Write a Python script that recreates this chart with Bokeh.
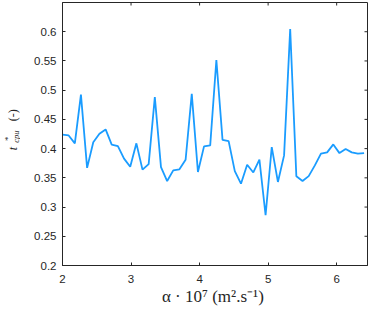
import math
from bokeh.plotting import figure
from bokeh.layouts import row
from bokeh.models import FixedTicker, Range1d
from bokeh.core.properties import value
from bokeh.embed import file_html
from bokeh.resources import INLINE

# thermal diffusivity alpha * 1e7 (m2/s)
alpha = [2.000, 2.090, 2.180, 2.269, 2.359, 2.449, 2.539, 2.629, 2.718, 2.808,
         2.898, 2.988, 3.078, 3.167, 3.257, 3.347, 3.437, 3.527, 3.616, 3.706,
         3.796, 3.886, 3.976, 4.065, 4.155, 4.245, 4.335, 4.424, 4.514, 4.604,
         4.694, 4.784, 4.873, 4.963, 5.053, 5.143, 5.233, 5.322, 5.412, 5.502,
         5.592, 5.682, 5.771, 5.861, 5.951, 6.041, 6.131, 6.220, 6.310, 6.400]

# normalised cpu time
t_cpu = [0.424, 0.4225, 0.409, 0.4925, 0.367, 0.411, 0.4254, 0.4328, 0.4067, 0.4043,
         0.3828, 0.369, 0.409, 0.364, 0.3735, 0.488, 0.3684, 0.3445, 0.3628, 0.3645,
         0.381, 0.4937, 0.360, 0.4038, 0.4055, 0.5517, 0.415, 0.4128, 0.3614, 0.340,
         0.3724, 0.3592, 0.381, 0.286, 0.4027, 0.343, 0.3884, 0.6046, 0.3526, 0.3445,
         0.353, 0.3713, 0.3913, 0.3935, 0.4072, 0.3923, 0.3992, 0.3935, 0.3913, 0.3923]

x_min, x_max = 2, 6.45
y_min, y_max = 0.2, 0.65
x_ticks = [2, 3, 4, 5, 6]
y_ticks = [0.2, 0.25, 0.3, 0.35, 0.4, 0.45, 0.5, 0.55, 0.6]
y_tick_labels = ["0.2", "0.25", "0.3", "0.35", "0.4", "0.45", "0.5", "0.55", "0.6"]

AX = "#262626"
LINE = "#1a9cff"
TOP, BOTTOM = 2, 44
LAB_W = 20

p = figure(width=372 - LAB_W, height=309, x_range=Range1d(x_min, x_max),
           y_range=Range1d(y_min, y_max), output_backend="svg", toolbar_location=None,
           min_border_left=62 - LAB_W, min_border_right=5, min_border_top=TOP,
           min_border_bottom=BOTTOM)
p.xgrid.visible = False
p.ygrid.visible = False
p.outline_line_color = AX
p.outline_line_width = 1
p.background_fill_color = "white"
p.border_fill_color = "white"


def style_axis(ax, ticks):
    ax.ticker = FixedTicker(ticks=ticks)
    ax.axis_line_color = AX
    ax.axis_line_width = 1
    ax.major_tick_line_color = AX
    ax.major_tick_in = 3
    ax.major_tick_out = 0
    ax.minor_tick_line_color = None
    ax.major_label_text_color = AX
    ax.major_label_text_font = "Liberation Sans"
    ax.major_label_text_font_size = "11.5px"


xa = p.xaxis[0]
style_axis(xa, x_ticks)
xa.major_label_standoff = 9
xa.axis_label = "α · 10⁷  (m².s⁻¹)"
xa.axis_label_text_font = "Liberation Serif"
xa.axis_label_text_font_style = "normal"
xa.axis_label_text_font_size = "17px"
xa.axis_label_text_color = AX
xa.axis_label_standoff = 1

ya = p.yaxis[0]
style_axis(ya, y_ticks)
ya.major_label_standoff = 6
ya.major_label_overrides = {t: s for t, s in zip(y_ticks, y_tick_labels)}

# mirrored inward ticks on the top and right edges (clipped to the frame)
p.scatter(x=x_ticks, y=[y_max] * len(x_ticks), marker="dash", size=6, angle=math.pi / 2,
          line_color=AX, line_width=1)
p.scatter(x=[x_max] * len(y_ticks), y=y_ticks, marker="dash", size=6,
          line_color=AX, line_width=1)

p.line(alpha, t_cpu, line_color=LINE, line_width=1.8)

# narrow strip holding the y-axis title  t*_cpu (-)
lab = figure(width=LAB_W, height=309, x_range=Range1d(0, LAB_W), y_range=Range1d(y_min, y_max),
             output_backend="svg", toolbar_location=None, x_axis_location=None,
             y_axis_location=None, min_border_left=0, min_border_right=0,
             min_border_top=TOP, min_border_bottom=BOTTOM)
lab.xgrid.visible = False
lab.ygrid.visible = False
lab.outline_line_color = None
lab.background_fill_color = "white"
lab.border_fill_color = "white"

ang = math.pi / 2
pieces = [
    ("t", 12, 0.397, "12px", "italic"),
    ("*", 7.5, 0.413, "9px", "normal"),
    ("cpu", 15, 0.410, "8.5px", "italic"),
    ("(-)", 12, 0.447, "12px", "normal"),
]
for txt, px, dy, fs, st in pieces:
    lab.text(x=[px], y=[dy], text=[txt], angle=ang, text_font=value("Liberation Serif"),
             text_font_size=fs, text_font_style=st, text_color=AX, text_align="left",
             text_baseline="alphabetic")

layout = row(lab, p, spacing=0)
open("out.html", "w").write(file_html(layout, INLINE))
